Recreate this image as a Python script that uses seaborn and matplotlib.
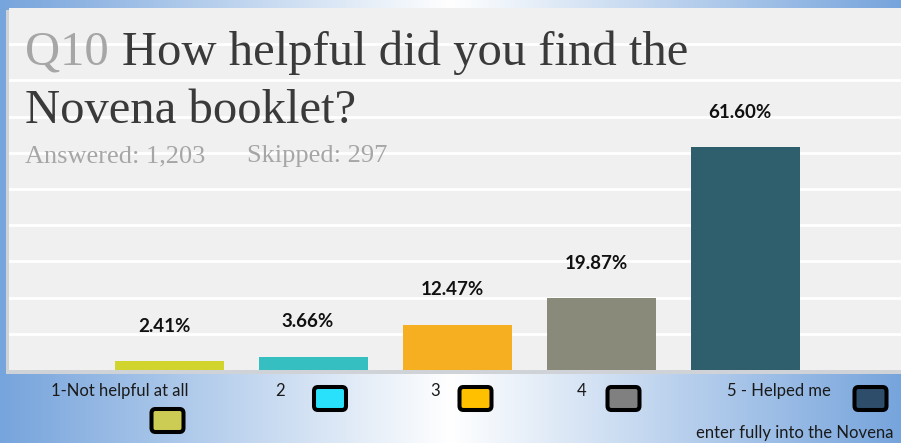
import numpy as np
import pandas as pd
import matplotlib
matplotlib.use("Agg")
import matplotlib.pyplot as plt
from matplotlib.patches import Rectangle, FancyBboxPatch
import seaborn as sns

# Survey results for Q10
categories = ["1", "2", "3", "4", "5"]
percentages = [2.41, 3.66, 12.47, 19.87, 61.60]
bar_colors = ["#d0d42c", "#36bfc0", "#f6af21", "#8a8a7b", "#2f5f6d"]

# Legend-style key along the bottom
key_labels = ["1-Not helpful at all", "2", "3", "4", "5 - Helped me"]
key_colors = ["#cccc55", "#29e1fa", "#ffc000", "#808080", "#2e4d6b"]

title_prefix = "Q10"
title_lines = ["How helpful did you find the", "Novena booklet?"]
answered_text = "Answered: 1,203"
skipped_text = "Skipped: 297"

W, H = 901, 443
fig = plt.figure(figsize=(W / 100, H / 100), dpi=100)


def fx(px):
    return px / W


def fy(py):
    return 1 - py / H


# Background: blue-white-blue horizontal gradient, in pixel coordinates
bg = fig.add_axes([0, 0, 1, 1], zorder=0)
t = np.linspace(0, 1, W)
d = np.abs(t - 0.5) * 2
blue = np.array([118, 164, 220]) / 255
white = np.array([1.0, 1.0, 1.0])
row = white[None, :] * (1 - d[:, None]) + blue[None, :] * d[:, None]
grad = np.repeat(row[None, :, :], 10, axis=0)
bg.imshow(grad, extent=[0, W, H, 0], aspect="auto", interpolation="bilinear")
bg.set_xlim(0, W)
bg.set_ylim(H, 0)
bg.axis("off")
# soft shadow behind the plot panel
bg.add_patch(Rectangle((5.5, 10), W, 363.5, facecolor="#cfd3d8", edgecolor="none"))

# Main bar panel
ax = fig.add_axes([fx(9), fy(370), fx(W) - fx(9), (370 - 8) / H], zorder=1)
ax.set_facecolor("#f0f0f0")

df = pd.DataFrame({"rating": categories, "pct": percentages})
sns.barplot(data=df, x="rating", y="pct", hue="rating", palette=bar_colors,
            order=categories, hue_order=categories, legend=False,
            saturation=1, width=0.757, ax=ax, zorder=2)

ax.set_xlim(-1.115, 5.08)
ax.set_ylim(0, 100)
ax.set_yticks(np.arange(10, 100, 10))
ax.grid(axis="y", color="white", linewidth=2)
ax.grid(axis="x", visible=False)
ax.set_axisbelow(True)
for s in ax.spines.values():
    s.set_visible(False)
ax.tick_params(left=False, bottom=False, labelleft=False, labelbottom=False)
ax.set_xlabel("")
ax.set_ylabel("")

for i, v in enumerate(percentages):
    ax.annotate(f"{v:.2f}%", xy=(i, v), xytext=(-4, 35 * 0.72),
                textcoords="offset points", ha="center", va="center",
                fontsize=13.5, fontweight="bold", family="Lato", color="#111111")

# Title block
serif = "Liberation Serif"
fig.text(fx(25), fy(65), title_prefix, fontsize=35, family=serif,
         color="#a6a6a6", va="baseline", ha="left", zorder=5)
fig.text(fx(122), fy(65), title_lines[0], fontsize=35, family=serif,
         color="#3a3a3a", va="baseline", ha="left", zorder=5)
fig.text(fx(25), fy(123), title_lines[1], fontsize=35, family=serif,
         color="#3a3a3a", va="baseline", ha="left", zorder=5)
fig.text(fx(25), fy(162), answered_text, fontsize=19, family=serif,
         color="#a6a6a6", va="baseline", ha="left", zorder=5)
fig.text(fx(247), fy(162), skipped_text, fontsize=19, family=serif,
         color="#a6a6a6", va="baseline", ha="left", zorder=5)

# Bottom key: labels and rounded colour swatches
label_pos = [(120, 391), (280, 391), (435, 391), (582, 391), (779, 391)]
for (x, y), lab in zip(label_pos, key_labels):
    bg.text(x, y, lab, ha="center", va="center", fontsize=12,
            family="Lato", color="#1a1a1a")
bg.text(696, 433, "enter fully into the Novena", ha="left", va="center",
        fontsize=12, family="Lato", color="#1a1a1a")

swatch_centers = [(167.5, 420.5), (330, 398.5), (475.5, 398.5),
                  (623.5, 398.5), (870.5, 398.5)]
sw_w, sw_h = 32, 23
for (cx, cy), col in zip(swatch_centers, key_colors):
    bg.add_patch(FancyBboxPatch((cx - sw_w / 2, cy - sw_h / 2), sw_w, sw_h,
                                boxstyle="round,pad=0,rounding_size=4",
                                facecolor=col, edgecolor="black",
                                linewidth=2.9))

fig.savefig("out.png", dpi=100)
